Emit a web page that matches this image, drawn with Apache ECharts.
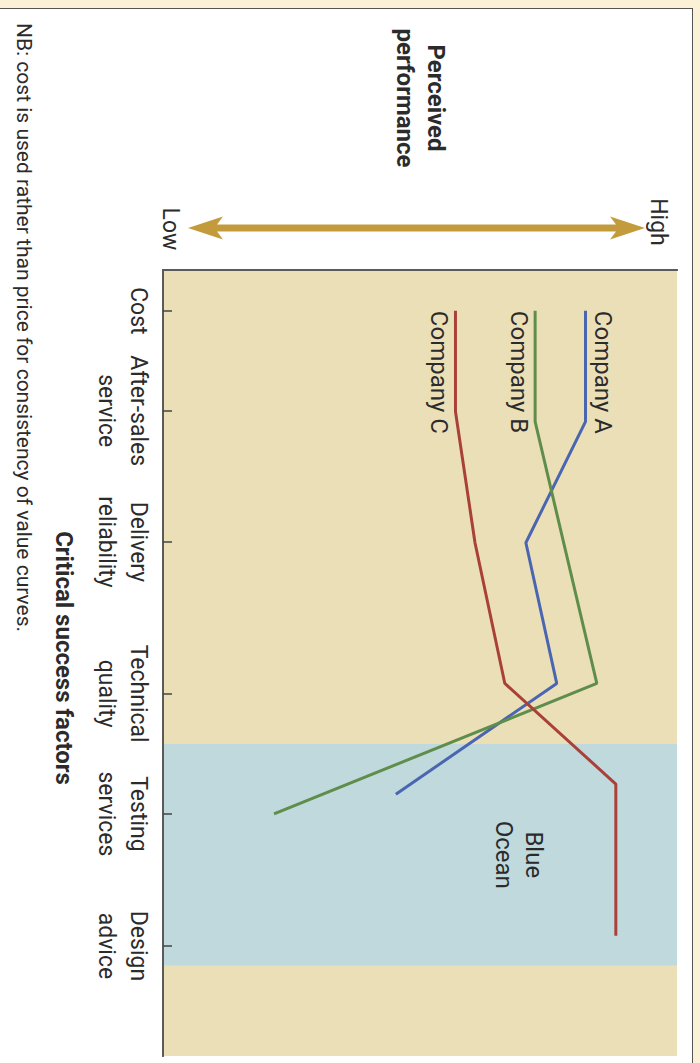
<!DOCTYPE html>
<html>
<head>
<meta charset="utf-8">
<script src="https://cdn.jsdelivr.net/npm/echarts@6/dist/echarts.min.js"></script>
<style>
  html, body { margin: 0; padding: 0; width: 700px; height: 1063px; overflow: hidden; background: #fbf1d6; }
  #frame { position: absolute; left: -2px; top: 8px; width: 695px; height: 1100px; background: #ffffff;
           border-top: 1.5px solid #555; border-right: 1.5px solid #555; box-sizing: border-box; }
  /* the strategy canvas is laid out landscape and turned a quarter clockwise */
  #chart { position: absolute; left: 700px; top: 0; width: 1063px; height: 700px;
           transform-origin: 0 0; transform: rotate(90deg); }
</style>
</head>
<body>
<div id="frame"></div>
<div id="chart"></div>
<script>
// Critical success factors and where each sits along the canvas (0-100)
const factors = ['Cost', 'After-sales\nservice', 'Delivery\nreliability', 'Technical\nquality', 'Testing\nservices', 'Design\nadvice'];
const factorPos = [5.2, 17.9, 34.6, 53.9, 69.2, 86.0];

// Value curves: [position along canvas, perceived performance 0-100]
const companyA = [[5.2, 82.2], [19.3, 82.2], [34.7, 70.6], [52.6, 76.6], [66.7, 45.3]];
const companyB = [[5.2, 72.4], [19.3, 72.4], [52.6, 84.4], [69.2, 21.6]];
const companyC = [[5.2, 56.9], [18.0, 56.9], [34.7, 60.7], [52.6, 66.5], [65.4, 88.1], [84.7, 88.1]];

// Uncontested space on the canvas
const blueOcean = [60.3, 88.5];

const FONT = 'Roboto';
const INK = '#2b2b2b';

function companySeries(name, data, color, labelPos, labelDist) {
  return {
    type: 'line',
    name: name,
    data: data.map((p, i) => i === 0 ? { value: p, label: { show: true } } : p),
    showSymbol: true,
    symbol: 'circle',
    symbolSize: 1,
    itemStyle: { color: 'rgba(0,0,0,0)' },
    lineStyle: { color: color, width: 3 },
    label: {
      show: false, formatter: name, position: labelPos, distance: labelDist,
      align: 'left', color: INK, fontSize: 24, fontFamily: FONT
    },
    emphasis: { disabled: true },
    silent: true,
    z: 4
  };
}

const chart = echarts.init(document.getElementById('chart'), null, { renderer: 'svg' });

const borderLine = { show: true, lineStyle: { color: '#5a5a5a', width: 2 } };

chart.setOption({
  animation: false,
  textStyle: { fontFamily: FONT },
  grid: { left: 270, top: 23, width: 786, height: 514, show: true, backgroundColor: '#ebdfb8', borderWidth: 0 },
  xAxis: [
    {
      type: 'value', min: 0, max: 100, position: 'bottom', z: 10,
      axisLine: borderLine,
      splitLine: { show: false },
      axisTick: { show: true, inside: true, length: 9, customValues: factorPos, lineStyle: { color: '#444', width: 1.5 } },
      axisLabel: {
        show: true, customValues: factorPos, margin: 9,
        formatter: v => factors[factorPos.indexOf(v)] || '',
        color: INK, fontSize: 23, lineHeight: 32, align: 'center'
      },
      name: 'Critical success factors', nameLocation: 'middle', nameGap: 87,
      nameTextStyle: { color: INK, fontSize: 24, fontWeight: 'bold', padding: [0, 10, 0, 0] }
    },
    {
      type: 'value', min: 0, max: 100, position: 'top', z: 10,
      axisLine: borderLine, axisTick: { show: false }, axisLabel: { show: false }, splitLine: { show: false }
    }
  ],
  yAxis: [
    {
      type: 'value', min: 0, max: 100, position: 'left', z: 10,
      axisLine: borderLine, axisTick: { show: false }, axisLabel: { show: false }, splitLine: { show: false },
      name: 'Perceived\nperformance', nameLocation: 'middle', nameRotate: 0, nameGap: 172,
      nameTextStyle: { color: INK, fontSize: 24, fontWeight: 'bold', lineHeight: 31, align: 'center', verticalAlign: 'middle' }
    },
    {
      type: 'value', min: 0, max: 100, position: 'right', z: 10,
      axisLine: borderLine, axisTick: { show: false }, axisLabel: { show: false }, splitLine: { show: false }
    }
  ],
  series: [
    {
      type: 'line', data: [], silent: true,
      markArea: {
        silent: true,
        itemStyle: { color: '#c0d9dc', opacity: 1 },
        label: {
          show: true, position: 'insideTop', distance: 128,
          color: INK, fontSize: 24, lineHeight: 30, fontFamily: FONT
        },
        data: [[{ xAxis: blueOcean[0], name: 'Blue\nOcean' }, { xAxis: blueOcean[1] }]]
      },
      z: 1
    },
    companySeries('Company A', companyA, '#4a66b1', 'top', 5),
    companySeries('Company B', companyB, '#5f8d4b', 'bottom', 4),
    companySeries('Company C', companyC, '#a9413a', 'bottom', 4)
  ],
  graphic: [
    {
      // Low-to-high performance arrow
      type: 'polygon', z: 5, silent: true,
      shape: {
        points: [
          [228, 55], [239.5, 90], [231.5, 84], [231.5, 483], [239.5, 477],
          [228, 512], [216.5, 477], [224.5, 483], [224.5, 84], [216.5, 90]
        ]
      },
      style: { fill: '#c39b3c' }
    },
    {
      type: 'text', z: 5, silent: true, x: 222, y: 42,
      style: { text: 'High', fill: INK, font: '23px ' + FONT, textAlign: 'center', textVerticalAlign: 'middle' }
    },
    {
      type: 'text', z: 5, silent: true, x: 229, y: 530,
      style: { text: 'Low', fill: INK, font: '23px ' + FONT, textAlign: 'center', textVerticalAlign: 'middle' }
    },
    {
      type: 'text', z: 5, silent: true, x: 23, y: 666,
      style: {
        text: 'NB: cost is used rather than price for consistency of value curves.',
        fill: INK, font: '21px ' + FONT, textAlign: 'left', textVerticalAlign: 'top'
      }
    }
  ]
});
</script>
</body>
</html>
